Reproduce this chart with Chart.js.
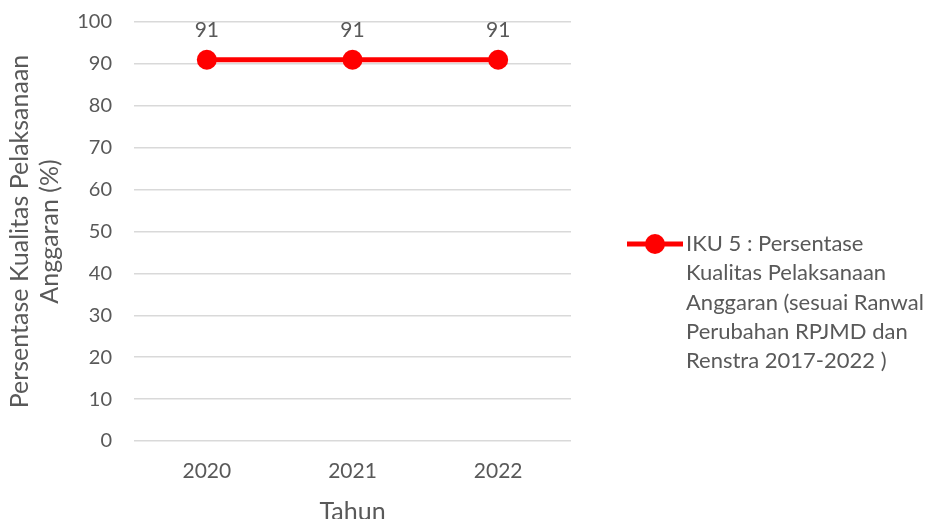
<!DOCTYPE html>
<html>
<head>
<meta charset="utf-8">
<script src="https://cdn.jsdelivr.net/npm/chart.js@4.4.0/dist/chart.umd.min.js"></script>
<style>
    html, body { margin: 0; padding: 0; background: #ffffff; }
    #wrap { width: 931px; height: 519px; position: relative; }
</style>
</head>
<body>
<div id="wrap"><canvas id="chart"></canvas></div>
<script>
const years = ['2020', '2021', '2022'];
const ikuValues = [91, 91, 91];
const seriesLabel = ['IKU 5 : Persentase', 'Kualitas Pelaksanaan', 'Anggaran (sesuai Ranwal', 'Perubahan RPJMD dan', 'Renstra 2017-2022 )'];
const yTitle = ['Persentase Kualitas Pelaksanaan', 'Anggaran (%)'];
const xTitle = 'Tahun';

const fontFamily = 'Lato, "Open Sans", sans-serif';
const textColor = '#595959';
const lineColor = '#ff0000';

// value labels above each point
const pointLabels = {
    id: 'pointLabels',
    afterDatasetsDraw(chart) {
        const c = chart.ctx;
        c.save();
        c.font = '21px ' + fontFamily;
        c.fillStyle = textColor;
        c.textAlign = 'center';
        c.textBaseline = 'middle';
        chart.getDatasetMeta(0).data.forEach((pt, i) => {
            c.fillText(String(chart.data.datasets[0].data[i]), pt.x, pt.y - 29);
        });
        c.restore();
    }
};

// legend at the right: line with marker, wrapped text
const sideLegend = {
    id: 'sideLegend',
    afterDraw(chart) {
        const c = chart.ctx;
        const x0 = chart.chartArea.right + 56;
        const y0 = chart.chartArea.top + 222;
        c.save();
        c.strokeStyle = lineColor;
        c.lineWidth = 5;
        c.beginPath();
        c.moveTo(x0, y0);
        c.lineTo(x0 + 56, y0);
        c.stroke();
        c.fillStyle = lineColor;
        c.beginPath();
        c.arc(x0 + 28, y0, 10, 0, Math.PI * 2);
        c.fill();
        c.font = '22px ' + fontFamily;
        c.fillStyle = textColor;
        c.textAlign = 'left';
        c.textBaseline = 'middle';
        seriesLabel.forEach((line, i) => {
            c.fillText(line, x0 + 59, y0 + i * 29.3);
        });
        c.restore();
    }
};

function draw_chart() {
    const ctx = document.getElementById('chart');
    new Chart(ctx, {
        type: 'line',
        data: {
            labels: years,
            datasets: [{
                label: seriesLabel.join(' '),
                data: ikuValues,
                borderColor: lineColor,
                backgroundColor: lineColor,
                borderWidth: 5,
                pointRadius: 10,
                pointHoverRadius: 10,
                pointBackgroundColor: lineColor,
                pointBorderWidth: 0,
                tension: 0,
            }]
        },
        options: {
            responsive: true,
            maintainAspectRatio: false,
            animation: false,
            layout: { autoPadding: false, padding: { left: 5, right: 360, top: 22, bottom: 0 } },
            plugins: {
                legend: { display: false },
                tooltip: { enabled: false },
            },
            scales: {
                x: {
                    offset: true,
                    grid: { display: false, drawTicks: false },
                    border: { display: false },
                    ticks: { color: textColor, font: { family: fontFamily, size: 21 }, padding: 18, maxRotation: 0 },
                    title: { display: true, text: xTitle, color: textColor, font: { family: fontFamily, size: 25, lineHeight: 0.6 }, padding: { top: 15, bottom: 0 } },
                    afterFit(scale) {
                        scale.height = 78;
                        scale.paddingLeft = 0;
                        scale.paddingRight = 0;
                    },
                },
                y: {
                    min: 0,
                    max: 100,
                    ticks: { stepSize: 10, color: textColor, font: { family: fontFamily, size: 20 }, padding: 22 },
                    grid: { color: '#d9d9d9', lineWidth: 1.5, drawTicks: false },
                    border: { display: false },
                    title: { display: true, text: yTitle, color: textColor, font: { family: fontFamily, size: 25, lineHeight: 1.2 }, padding: { top: 0, bottom: 12 } },
                    afterFit(scale) {
                        scale.width = 129;
                        scale.paddingTop = 12;
                        scale.paddingBottom = 12;
                    },
                }
            }
        },
        plugins: [pointLabels, sideLegend]
    });
}

document.fonts.load('20px Lato').then(draw_chart, draw_chart);
</script>
</body>
</html>
